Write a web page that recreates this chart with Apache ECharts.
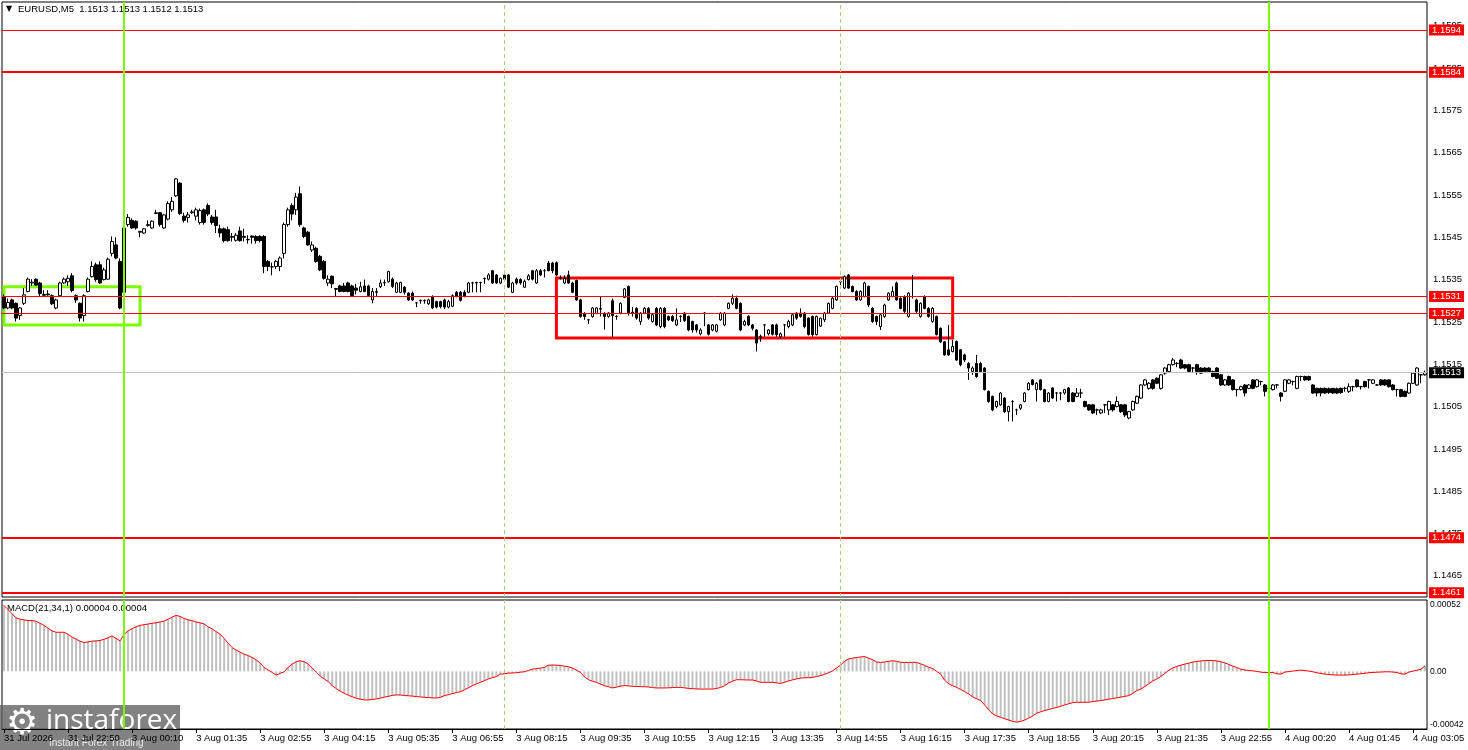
<!doctype html>
<html>
<head>
<meta charset="utf-8">
<title>EURUSD M5</title>
<script src="https://cdn.jsdelivr.net/npm/echarts@6.0.0/dist/echarts.min.js"></script>
<style>
    html,body{margin:0;padding:0;background:#fff;}
    #chart{width:1468px;height:750px;}
</style>
</head>
<body>
<div id="chart"></div>
<script type="text/javascript">
// candles: [open, close, low, high]
var candles = [
 [1.15310,1.15283,1.15280,1.15315],[1.15283,1.15296,1.15280,1.15305],[1.15302,1.15283,1.15280,1.15305],[1.15294,1.15259,1.15251,1.15296],[1.15265,1.15283,1.15255,1.15285],
 [1.15294,1.15314,1.15290,1.15330],[1.15322,1.15351,1.15320,1.15355],[1.15342,1.15344,1.15335,1.15351],[1.15351,1.15337,1.15335,1.15353],[1.15342,1.15317,1.15310,1.15345],
 [1.15315,1.15313,1.15310,1.15325],[1.15316,1.15314,1.15312,1.15325],[1.15312,1.15293,1.15290,1.15315],[1.15283,1.15302,1.15280,1.15305],[1.15312,1.15342,1.15310,1.15345],
 [1.15342,1.15351,1.15340,1.15355],[1.15345,1.15353,1.15335,1.15360],[1.15359,1.15324,1.15320,1.15365],[1.15312,1.15302,1.15295,1.15315],[1.15294,1.15259,1.15251,1.15296],
 [1.15265,1.15312,1.15251,1.15315],[1.15322,1.15351,1.15320,1.15355],[1.15357,1.15381,1.15355,1.15393],[1.15385,1.15350,1.15345,1.15390],[1.15385,1.15342,1.15340,1.15393],
 [1.15350,1.15373,1.15348,1.15378],[1.15351,1.15398,1.15350,1.15402],[1.15412,1.15440,1.15405,1.15452],[1.15432,1.15401,1.15398,1.15450],[1.15393,1.15283,1.15280,1.15400],
 [1.15320,1.15472,1.15305,1.15475],[1.15480,1.15497,1.15475,1.15505],[1.15490,1.15472,1.15470,1.15495],[1.15488,1.15472,1.15468,1.15490],[1.15462,1.15464,1.15450,1.15465],
 [1.15460,1.15470,1.15458,1.15472],[1.15478,1.15480,1.15475,1.15490],[1.15472,1.15488,1.15470,1.15490],[1.15506,1.15508,1.15505,1.15515],[1.15508,1.15480,1.15475,1.15510],
 [1.15472,1.15503,1.15470,1.15505],[1.15493,1.15530,1.15490,1.15535],[1.15515,1.15535,1.15510,1.15545],[1.15548,1.15588,1.15545,1.15590],[1.15578,1.15506,1.15503,1.15580],
 [1.15500,1.15490,1.15485,1.15508],[1.15497,1.15503,1.15485,1.15510],[1.15508,1.15510,1.15505,1.15515],[1.15500,1.15515,1.15490,1.15520],[1.15485,1.15513,1.15480,1.15518],
 [1.15515,1.15485,1.15480,1.15518],[1.15525,1.15505,1.15500,1.15530],[1.15498,1.15485,1.15480,1.15503],[1.15498,1.15478,1.15460,1.15515],[1.15470,1.15460,1.15450,1.15480],
 [1.15470,1.15442,1.15438,1.15473],[1.15468,1.15442,1.15440,1.15475],[1.15450,1.15452,1.15440,1.15460],[1.15443,1.15455,1.15440,1.15460],[1.15465,1.15442,1.15440,1.15475],
 [1.15452,1.15450,1.15440,1.15470],[1.15444,1.15445,1.15435,1.15455],[1.15453,1.15450,1.15435,1.15455],[1.15452,1.15442,1.15435,1.15455],[1.15452,1.15442,1.15438,1.15455],
 [1.15452,1.15381,1.15365,1.15455],[1.15393,1.15381,1.15370,1.15396],[1.15380,1.15380,1.15360,1.15390],[1.15381,1.15393,1.15375,1.15396],[1.15381,1.15401,1.15370,1.15405],
 [1.15412,1.15480,1.15400,1.15485],[1.15480,1.15515,1.15475,1.15520],[1.15525,1.15505,1.15490,1.15530],[1.15515,1.15545,1.15503,1.15555],[1.15553,1.15480,1.15475,1.15570],
 [1.15472,1.15452,1.15448,1.15475],[1.15462,1.15432,1.15430,1.15465],[1.15420,1.15432,1.15415,1.15440],[1.15424,1.15393,1.15390,1.15428],[1.15405,1.15373,1.15370,1.15408],
 [1.15393,1.15353,1.15350,1.15396],[1.15342,1.15351,1.15335,1.15360],[1.15358,1.15340,1.15330,1.15360],[1.15327,1.15329,1.15310,1.15330],[1.15335,1.15322,1.15320,1.15338],
 [1.15335,1.15322,1.15320,1.15342],[1.15342,1.15322,1.15320,1.15345],[1.15335,1.15312,1.15310,1.15338],[1.15330,1.15325,1.15315,1.15340],[1.15322,1.15333,1.15320,1.15345],
 [1.15335,1.15322,1.15320,1.15350],[1.15335,1.15312,1.15310,1.15338],[1.15302,1.15322,1.15294,1.15330],[1.15320,1.15322,1.15310,1.15330],[1.15333,1.15342,1.15330,1.15350],
 [1.15342,1.15343,1.15335,1.15350],[1.15345,1.15369,1.15343,1.15371],[1.15351,1.15334,1.15330,1.15355],[1.15320,1.15342,1.15318,1.15345],[1.15320,1.15343,1.15318,1.15345],
 [1.15332,1.15320,1.15315,1.15335],[1.15318,1.15302,1.15300,1.15320],[1.15318,1.15302,1.15300,1.15322],[1.15295,1.15295,1.15285,1.15297],[1.15301,1.15300,1.15293,1.15303],
 [1.15300,1.15301,1.15293,1.15303],[1.15293,1.15302,1.15290,1.15305],[1.15310,1.15283,1.15280,1.15313],[1.15298,1.15285,1.15282,1.15300],[1.15298,1.15286,1.15282,1.15300],
 [1.15302,1.15285,1.15280,1.15305],[1.15285,1.15298,1.15282,1.15302],[1.15287,1.15312,1.15285,1.15315],[1.15320,1.15310,1.15308,1.15323],[1.15320,1.15301,1.15298,1.15323],
 [1.15320,1.15310,1.15308,1.15325],[1.15320,1.15342,1.15318,1.15345],[1.15342,1.15342,1.15320,1.15345],[1.15343,1.15342,1.15320,1.15345],[1.15343,1.15343,1.15320,1.15345],
 [1.15352,1.15353,1.15340,1.15355],[1.15351,1.15361,1.15348,1.15365],[1.15371,1.15342,1.15340,1.15373],[1.15361,1.15342,1.15340,1.15363],[1.15342,1.15353,1.15339,1.15355],
 [1.15361,1.15351,1.15348,1.15371],[1.15361,1.15332,1.15330,1.15363],[1.15320,1.15342,1.15318,1.15345],[1.15351,1.15342,1.15338,1.15355],[1.15350,1.15342,1.15338,1.15353],
 [1.15332,1.15346,1.15330,1.15350],[1.15350,1.15359,1.15348,1.15363],[1.15371,1.15351,1.15348,1.15373],[1.15342,1.15371,1.15340,1.15375],[1.15371,1.15361,1.15358,1.15375],
 [1.15371,1.15371,1.15355,1.15375],[1.15389,1.15371,1.15370,1.15394],[1.15389,1.15371,1.15365,1.15392],[1.15390,1.15361,1.15358,1.15393],[1.15353,1.15354,1.15350,1.15360],
 [1.15342,1.15353,1.15340,1.15360],[1.15361,1.15342,1.15340,1.15371],[1.15342,1.15320,1.15318,1.15345],[1.15348,1.15302,1.15300,1.15350],[1.15302,1.15263,1.15260,1.15305],
 [1.15270,1.15263,1.15255,1.15273],[1.15255,1.15255,1.15245,1.15257],[1.15263,1.15283,1.15260,1.15285],[1.15270,1.15283,1.15268,1.15285],[1.15280,1.15282,1.15263,1.15310],
 [1.15270,1.15263,1.15232,1.15273],[1.15263,1.15271,1.15260,1.15273],[1.15300,1.15265,1.15214,1.15305],[1.15263,1.15263,1.15255,1.15266],[1.15271,1.15294,1.15268,1.15296],
 [1.15308,1.15328,1.15306,1.15330],[1.15334,1.15271,1.15265,1.15336],[1.15273,1.15270,1.15263,1.15285],[1.15282,1.15259,1.15255,1.15285],[1.15251,1.15271,1.15243,1.15273],
 [1.15271,1.15282,1.15268,1.15285],[1.15282,1.15259,1.15255,1.15285],[1.15251,1.15267,1.15248,1.15270],[1.15282,1.15243,1.15240,1.15285],[1.15239,1.15282,1.15235,1.15285],
 [1.15282,1.15239,1.15235,1.15285],[1.15263,1.15255,1.15252,1.15265],[1.15263,1.15253,1.15250,1.15267],[1.15243,1.15255,1.15240,1.15282],[1.15263,1.15263,1.15250,1.15266],
 [1.15271,1.15253,1.15250,1.15273],[1.15263,1.15231,1.15228,1.15265],[1.15251,1.15231,1.15225,1.15253],[1.15243,1.15231,1.15225,1.15245],[1.15222,1.15231,1.15218,1.15235],
 [1.15271,1.15271,1.15240,1.15273],[1.15243,1.15221,1.15218,1.15245],[1.15231,1.15243,1.15228,1.15245],[1.15228,1.15243,1.15225,1.15245],[1.15255,1.15271,1.15253,1.15273],
 [1.15243,1.15271,1.15240,1.15273],[1.15282,1.15294,1.15280,1.15296],[1.15294,1.15306,1.15290,1.15315],[1.15306,1.15282,1.15280,1.15312],[1.15294,1.15231,1.15228,1.15296],
 [1.15243,1.15251,1.15240,1.15255],[1.15263,1.15243,1.15240,1.15266],[1.15243,1.15235,1.15230,1.15245],[1.15231,1.15200,1.15180,1.15233],[1.15213,1.15216,1.15203,1.15220],
 [1.15243,1.15243,1.15215,1.15245],[1.15222,1.15231,1.15218,1.15233],[1.15243,1.15221,1.15218,1.15245],[1.15243,1.15220,1.15215,1.15246],[1.15215,1.15222,1.15210,1.15225],
 [1.15243,1.15243,1.15215,1.15245],[1.15239,1.15251,1.15235,1.15255],[1.15243,1.15267,1.15240,1.15271],[1.15271,1.15259,1.15255,1.15273],[1.15271,1.15263,1.15260,1.15282],
 [1.15271,1.15239,1.15235,1.15273],[1.15259,1.15220,1.15218,1.15261],[1.15263,1.15220,1.15215,1.15265],[1.15220,1.15263,1.15218,1.15265],[1.15240,1.15259,1.15238,1.15260],
 [1.15255,1.15271,1.15250,1.15273],[1.15271,1.15294,1.15270,1.15296],[1.15282,1.15306,1.15280,1.15310],[1.15302,1.15334,1.15300,1.15336],[1.15345,1.15345,1.15330,1.15348],
 [1.15330,1.15357,1.15328,1.15360],[1.15361,1.15330,1.15328,1.15363],[1.15334,1.15322,1.15320,1.15336],[1.15322,1.15302,1.15300,1.15325],[1.15302,1.15322,1.15300,1.15325],
 [1.15310,1.15342,1.15308,1.15345],[1.15334,1.15290,1.15285,1.15336],[1.15282,1.15251,1.15248,1.15285],[1.15263,1.15251,1.15243,1.15265],[1.15239,1.15267,1.15231,1.15270],
 [1.15263,1.15290,1.15260,1.15293],[1.15302,1.15318,1.15300,1.15320],[1.15310,1.15322,1.15308,1.15334],[1.15342,1.15302,1.15300,1.15345],[1.15306,1.15282,1.15280,1.15308],
 [1.15310,1.15275,1.15270,1.15313],[1.15263,1.15318,1.15260,1.15320],[1.15310,1.15310,1.15305,1.15361],[1.15302,1.15275,1.15270,1.15305],[1.15263,1.15294,1.15260,1.15296],
 [1.15310,1.15282,1.15280,1.15313],[1.15282,1.15263,1.15260,1.15285],[1.15251,1.15282,1.15248,1.15285],[1.15263,1.15220,1.15218,1.15265],[1.15235,1.15203,1.15200,1.15237],
 [1.15203,1.15172,1.15170,1.15205],[1.15184,1.15172,1.15170,1.15243],[1.15180,1.15192,1.15178,1.15208],[1.15204,1.15160,1.15158,1.15206],[1.15184,1.15149,1.15145,1.15186],
 [1.15172,1.15160,1.15155,1.15175],[1.15152,1.15141,1.15113,1.15155],[1.15133,1.15141,1.15125,1.15145],[1.15152,1.15121,1.15118,1.15172],[1.15152,1.15133,1.15130,1.15155],
 [1.15141,1.15090,1.15088,1.15143],[1.15086,1.15062,1.15059,1.15088],[1.15074,1.15042,1.15039,1.15076],[1.15050,1.15062,1.15046,1.15064],[1.15054,1.15082,1.15052,1.15084],
 [1.15070,1.15038,1.15035,1.15072],[1.15038,1.15050,1.15015,1.15052],[1.15062,1.15062,1.15015,1.15065],[1.15042,1.15042,1.15030,1.15045],[1.15046,1.15054,1.15042,1.15056],
 [1.15062,1.15082,1.15060,1.15084],[1.15090,1.15105,1.15088,1.15108],[1.15113,1.15102,1.15100,1.15115],[1.15090,1.15105,1.15062,1.15108],[1.15113,1.15090,1.15088,1.15115],
 [1.15090,1.15062,1.15060,1.15092],[1.15062,1.15082,1.15060,1.15084],[1.15094,1.15070,1.15068,1.15096],[1.15082,1.15082,1.15062,1.15084],[1.15082,1.15082,1.15065,1.15084],
 [1.15082,1.15090,1.15078,1.15092],[1.15094,1.15062,1.15060,1.15096],[1.15082,1.15062,1.15060,1.15084],[1.15074,1.15082,1.15072,1.15094],[1.15082,1.15082,1.15070,1.15092],
 [1.15062,1.15050,1.15048,1.15064],[1.15054,1.15042,1.15040,1.15056],[1.15054,1.15035,1.15032,1.15056],[1.15042,1.15042,1.15030,1.15045],[1.15035,1.15042,1.15032,1.15045],
 [1.15054,1.15054,1.15035,1.15056],[1.15042,1.15062,1.15030,1.15064],[1.15054,1.15042,1.15038,1.15056],[1.15050,1.15062,1.15048,1.15074],[1.15054,1.15038,1.15035,1.15056],
 [1.15054,1.15030,1.15025,1.15056],[1.15023,1.15038,1.15020,1.15040],[1.15042,1.15062,1.15040,1.15064],[1.15058,1.15074,1.15056,1.15076],[1.15070,1.15101,1.15068,1.15103],
 [1.15101,1.15113,1.15099,1.15115],[1.15093,1.15105,1.15090,1.15108],[1.15113,1.15093,1.15090,1.15115],[1.15117,1.15105,1.15103,1.15119],[1.15093,1.15125,1.15090,1.15127],
 [1.15129,1.15141,1.15125,1.15143],[1.15133,1.15149,1.15130,1.15151],[1.15149,1.15160,1.15147,1.15165],[1.15152,1.15152,1.15143,1.15155],[1.15160,1.15141,1.15139,1.15163],
 [1.15149,1.15141,1.15138,1.15151],[1.15149,1.15133,1.15130,1.15151],[1.15141,1.15141,1.15130,1.15143],[1.15149,1.15133,1.15125,1.15151],[1.15141,1.15129,1.15127,1.15143],
 [1.15141,1.15133,1.15130,1.15143],[1.15141,1.15133,1.15130,1.15143],[1.15133,1.15121,1.15119,1.15135],[1.15141,1.15117,1.15115,1.15143],[1.15125,1.15101,1.15099,1.15127],
 [1.15101,1.15113,1.15099,1.15115],[1.15121,1.15101,1.15099,1.15123],[1.15113,1.15090,1.15088,1.15115],[1.15090,1.15090,1.15074,1.15092],[1.15090,1.15097,1.15088,1.15099],
 [1.15101,1.15082,1.15074,1.15103],[1.15093,1.15101,1.15091,1.15103],[1.15113,1.15093,1.15091,1.15115],[1.15097,1.15113,1.15095,1.15115],[1.15109,1.15109,1.15100,1.15111],
 [1.15101,1.15086,1.15074,1.15103],[1.15093,1.15093,1.15085,1.15095],[1.15090,1.15101,1.15088,1.15103],[1.15101,1.15101,1.15093,1.15103],[1.15082,1.15074,1.15062,1.15084],
 [1.15086,1.15113,1.15084,1.15115],[1.15105,1.15113,1.15103,1.15115],[1.15109,1.15109,1.15100,1.15111],[1.15093,1.15121,1.15091,1.15123],[1.15121,1.15121,1.15110,1.15123],
 [1.15121,1.15113,1.15111,1.15123],[1.15121,1.15113,1.15111,1.15123],[1.15101,1.15082,1.15080,1.15103],[1.15093,1.15082,1.15074,1.15095],[1.15093,1.15082,1.15074,1.15095],
 [1.15093,1.15082,1.15080,1.15095],[1.15092,1.15083,1.15080,1.15095],[1.15093,1.15082,1.15080,1.15094],[1.15092,1.15082,1.15080,1.15095],[1.15093,1.15083,1.15080,1.15095],
 [1.15093,1.15093,1.15085,1.15097],[1.15086,1.15097,1.15082,1.15105],[1.15097,1.15097,1.15086,1.15099],[1.15113,1.15097,1.15095,1.15115],[1.15097,1.15097,1.15090,1.15099],
 [1.15109,1.15097,1.15095,1.15111],[1.15113,1.15113,1.15093,1.15115],[1.15105,1.15113,1.15103,1.15115],[1.15101,1.15101,1.15100,1.15103],[1.15113,1.15101,1.15099,1.15115],
 [1.15113,1.15101,1.15099,1.15115],[1.15113,1.15097,1.15095,1.15115],[1.15101,1.15090,1.15088,1.15103],[1.15090,1.15090,1.15074,1.15092],[1.15090,1.15074,1.15072,1.15092],
 [1.15086,1.15074,1.15072,1.15088],[1.15082,1.15105,1.15080,1.15107],[1.15105,1.15129,1.15103,1.15131],[1.15101,1.15141,1.15099,1.15143],[1.15125,1.15125,1.15105,1.15127],
 [1.15125,1.15130,1.15123,1.15135]
];

// MACD(21,34,1) main value per bar, in points of 0.00001 (signal = main, period 1)
var macdPoints = [
 48,45,42,39,38,37.5,37,37,36.5,35,
 33.5,31.5,29.5,28.5,28.5,28.5,27,25,23.5,22,
 21,21.5,22,22.2,22.5,23.4,24.5,25.8,24,22.2,
 27,29.5,31.1,32.5,33.5,34,34.5,35,35.4,36,
 36.7,38,39.5,40.8,40,38.5,37.5,37,36,35.4,
 34.5,32.5,31,29,27,24,20.5,17.3,15.5,14,
 12.5,11.5,10,8.4,6,2.8,1,-0.8,-2.7,-1.5,
 -0.3,3,5.3,7,7.7,7,5.3,2.5,-0.5,-3.5,
 -5.5,-7.5,-10.4,-12.5,-14.5,-16,-17.3,-18.5,-19.6,-20.3,
 -20.8,-20.8,-20.5,-20.1,-19.5,-18.8,-18.2,-17.5,-17.2,-17.2,
 -17.6,-17.8,-18,-18.4,-18.6,-18.9,-19.1,-19.3,-19.4,-19,
 -17.7,-17,-16.2,-15.5,-14.8,-13.5,-12,-10.4,-9.2,-8,
 -6.8,-5.5,-4.6,-3.8,-2,-1.8,-1.3,-1.2,-1,-0.6,
 -0.3,0.6,1.6,2,2.4,2.8,4.5,4.6,4.5,4.3,
 3.8,3.4,2.4,1,-0.8,-4,-6,-7.2,-8,-9.3,
 -10.4,-11.2,-12.1,-11.5,-10.8,-10.4,-10.6,-10.9,-11,-11.1,
 -11.2,-11.4,-11.8,-12.1,-12.1,-12.1,-12,-11.8,-11.7,-11.7,
 -12,-12.4,-12.6,-12.8,-12.9,-12.9,-12.9,-12.9,-12.5,-11.7,
 -10.5,-8.5,-7.2,-6.1,-6.1,-6.2,-6.3,-6.3,-7,-8,
 -8,-8,-8,-8.4,-8.8,-8,-7,-6.2,-5.5,-4.9,
 -4.7,-4.6,-4.4,-3.8,-3,-2.2,-1,0.3,2.5,4.5,
 7.5,9,9.6,10.1,10.5,10.8,9.6,8.5,6.8,6.5,
 6.8,7.3,7.7,7.3,6.6,6.5,6.5,6.6,6.5,5.5,
 4.3,3,2.1,0,-2,-6.5,-9,-10.5,-11.7,-13.2,
 -14.8,-16.5,-18.5,-20,-21.3,-24.5,-28,-31,-32.5,-33.5,
 -34.5,-35.5,-36.5,-37,-36.5,-35.5,-34,-32.5,-30.5,-29.5,
 -28.5,-27.8,-27,-26.3,-25.4,-24.5,-23.6,-22.8,-22.5,-22.5,
 -22.5,-22.5,-22,-21.6,-21.3,-20.8,-20.3,-19.8,-19.3,-18.8,
 -18.2,-17.7,-16,-14,-12.9,-11,-9,-7,-5.5,-3.7,
 -1.5,0.8,2.5,3.6,4.5,5.3,6,6.8,7.2,7.6,
 7.9,7.9,7.9,7.6,7,6.2,5,3.8,2.8,1.5,
 1,0.6,0.4,0,-0.6,-0.8,-0.8,-0.8,-1.8,-2,
 -0.5,-0.2,0.2,0.6,0.9,0.6,0.2,-0.3,-1,-1.6,
 -2,-2.3,-2.6,-2.7,-2.7,-2.7,-2.6,-2.3,-2,-1.7,
 -1.4,-1,-0.8,-0.6,-0.5,-0.3,-0.3,-0.5,-0.8,-1.8,
 -2,-0.5,0.2,0.8,1.6,4
];

var timeLabels = ['31 Jul 2026','31 Jul 22:50','3 Aug 00:10','3 Aug 01:35','3 Aug 02:55','3 Aug 04:15',
    '3 Aug 05:35','3 Aug 06:55','3 Aug 08:15','3 Aug 09:35','3 Aug 10:55','3 Aug 12:15','3 Aug 13:35',
    '3 Aug 14:55','3 Aug 16:15','3 Aug 17:35','3 Aug 18:55','3 Aug 20:15','3 Aug 21:35','3 Aug 22:55',
    '4 Aug 00:20','4 Aug 01:45','4 Aug 03:05'];
var labelStep = 16;

var levelPrices = [1.1594, 1.1584, 1.1531, 1.1527, 1.1474, 1.1461];
var levelWidths = [1, 2, 1, 1, 2, 2];
var lastPrice = 1.1513;
var dayLines = [30, 316];      // solid green separators (bar index)
var sessionLines = [125, 209]; // dashed separators (bar index)
// boxes: [fromBar, toBar, lowPrice, highPrice]
var greenBox = [0, 34, 1.15243, 1.15333];
var redBox = [138, 237, 1.15212, 1.15354];

var FONT = 'Liberation Sans';
var categories = [];
for (var i = 0; i < candles.length; i++) categories.push(String(i));

var hLines = [];
for (var j = 0; j < levelPrices.length; j++) {
    hLines.push({
        yAxis: levelPrices[j],
        lineStyle: {color: '#ff0000', width: levelWidths[j], type: 'solid'},
        label: {backgroundColor: '#ff0000'}
    });
}
hLines.push({
    yAxis: lastPrice,
    lineStyle: {color: '#c0c0c0', width: 1, type: 'solid'},
    label: {backgroundColor: '#000000'}
});

function vLines() {
    var out = [];
    dayLines.forEach(function (b) {
        out.push({xAxis: String(b), lineStyle: {color: '#7cfc00', width: 2, type: 'solid'}, label: {show: false}});
    });
    sessionLines.forEach(function (b) {
        out.push({xAxis: String(b), lineStyle: {color: '#a6d46a', width: 1, type: [4, 3]}, label: {show: false}});
    });
    return out;
}

function box(b, color) {
    return [{xAxis: String(b[0]), yAxis: b[2], itemStyle: {color: 'rgba(0,0,0,0)', borderColor: color, borderWidth: 3}},
            {xAxis: String(b[1]), yAxis: b[3]}];
}

var chart = echarts.init(document.getElementById('chart'), null, {renderer: 'canvas'});

var option = {
    animation: false,
    backgroundColor: '#ffffff',
    textStyle: {fontFamily: FONT},
    grid: [
        {left: 2, right: 41, top: 2, height: 595, show: true, borderColor: '#000', borderWidth: 1,
            backgroundColor: '#fff', containLabel: false, outerBoundsMode: 'none'},
        {left: 2, right: 41, top: 600, height: 129, show: true, borderColor: '#000', borderWidth: 1,
            backgroundColor: '#fff', containLabel: false, outerBoundsMode: 'none'}
    ],
    xAxis: [
        {type: 'category', gridIndex: 0, data: categories, boundaryGap: true,
            axisLine: {show: false}, axisTick: {show: false}, axisLabel: {show: false}, splitLine: {show: false}},
        {type: 'category', gridIndex: 1, data: categories, boundaryGap: true,
            axisLine: {show: true, onZero: false, lineStyle: {color: '#000'}},
            axisTick: {show: true, alignWithLabel: true, length: 4, lineStyle: {color: '#000'},
                interval: function (idx) { return idx % labelStep === 0; }},
            axisLabel: {show: true, align: 'left', margin: 4, color: '#000', fontSize: 9.5, fontFamily: FONT,
                interval: function (idx) { return idx % labelStep === 0; },
                formatter: function (v, idx) { return timeLabels[idx / labelStep] || ''; }},
            splitLine: {show: false}}
    ],
    yAxis: [
        {type: 'value', gridIndex: 0, position: 'right', min: 1.1460, max: 1.16006, interval: 0.0005,
            axisLine: {show: false}, axisTick: {show: false}, splitLine: {show: false},
            axisLabel: {color: '#000', fontSize: 9.5, fontFamily: FONT, margin: 6, showMaxLabel: false,
                formatter: function (v) {
                    var p = Math.round(v * 10000);
                    return (p % 10 === 5) ? (p / 10000).toFixed(4) : '';
                }}},
        {type: 'value', gridIndex: 1, position: 'right', min: -42, max: 52, interval: 2,
            axisLine: {show: false}, axisTick: {show: false}, splitLine: {show: false},
            axisLabel: {color: '#000', fontSize: 8.5, fontFamily: FONT, margin: 3,
                verticalAlignMaxLabel: 'top', verticalAlignMinLabel: 'bottom',
                formatter: function (v) {
                    var p = Math.round(v);
                    if (p === 52) return '0.00052';
                    if (p === 0) return '0.00';
                    if (p === -42) return '-0.00042';
                    return '';
                }}}
    ],
    series: [
        {
            name: 'EURUSD', type: 'candlestick', xAxisIndex: 0, yAxisIndex: 0,
            data: candles, barWidth: 3,
            itemStyle: {color: '#ffffff', color0: '#000000', borderColor: '#000000', borderColor0: '#000000',
                borderColorDoji: '#000000', borderWidth: 1},
            markArea: {silent: true, data: [box(greenBox, '#7cfc00'), box(redBox, '#ff0000')]},
            markLine: {
                silent: true, symbol: 'none', animation: false, precision: 5,
                label: {show: true, position: 'end', distance: 2, color: '#fff', fontSize: 9.5, fontFamily: FONT,
                    padding: [1, 3, 0, 3], formatter: function (p) { return Number(p.value).toFixed(4); }},
                data: hLines.concat(vLines())
            }
        },
        {
            name: 'MACD', type: 'bar', xAxisIndex: 1, yAxisIndex: 1,
            data: macdPoints, barWidth: 2, itemStyle: {color: '#c0c0c0'}
        },
        {
            name: 'Signal', type: 'line', xAxisIndex: 1, yAxisIndex: 1,
            data: macdPoints, symbol: 'none', lineStyle: {color: '#ff0000', width: 1},
            markLine: {silent: true, symbol: 'none', animation: false, data: vLines()}
        }
    ],
    graphic: [
        {type: 'text', left: 6, top: 5, style: {text: '▼', fontSize: 8, fill: '#000', fontFamily: 'DejaVu Sans'}},
        {type: 'text', left: 18, top: 4, style: {text: 'EURUSD,M5  1.1513 1.1513 1.1512 1.1513',
            fontSize: 9.5, fill: '#000', fontFamily: FONT}},
        {type: 'text', left: 7, top: 603, style: {text: 'MACD(21,34,1) 0.00004 0.00004',
            fontSize: 9.5, fill: '#000', fontFamily: FONT}},
        {type: 'group', left: 0, top: 705, z: 100, children: [
            {type: 'rect', shape: {x: 0, y: 0, width: 180, height: 45}, style: {fill: 'rgba(95,95,95,0.78)'}},
            {type: 'text', x: 6, y: 2, style: {text: '⚙', fontSize: 36, fill: '#ffffff', fontFamily: 'DejaVu Sans'}},
            {type: 'text', x: 46, y: 2, style: {text: 'instaforex', fontSize: 28, fill: '#ffffff', fontFamily: 'Open Sans'}},
            {type: 'text', x: 49, y: 33, style: {text: 'Instant Forex Trading', fontSize: 10, fill: '#e8e8e8', fontFamily: FONT}}
        ]}
    ]
};

chart.setOption(option);
</script>
</body>
</html>
